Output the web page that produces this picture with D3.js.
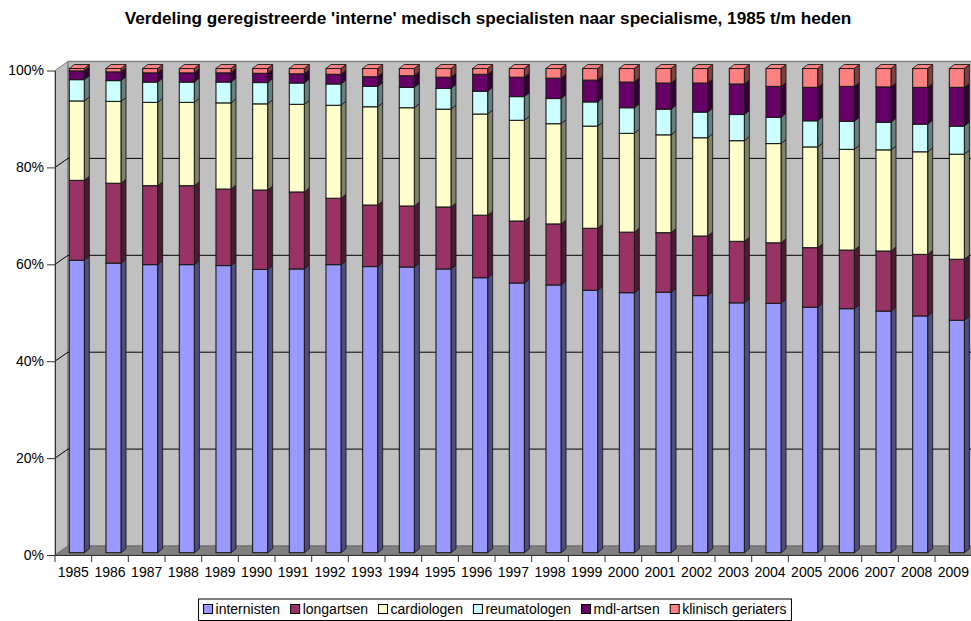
<!DOCTYPE html>
<html>
<head>
<meta charset="utf-8">
<script src="https://cdn.jsdelivr.net/npm/d3@7"></script>
<style>
  html, body { margin: 0; padding: 0; background: #fff; }
  svg { display: block; font-family: "Liberation Sans", Arial, sans-serif; }
</style>
</head>
<body>
<svg id="chart" width="971" height="621"></svg>
<script>
const title = "Verdeling geregistreerde 'interne' medisch specialisten naar specialisme, 1985 t/m heden";
const years = ["1985","1986","1987","1988","1989","1990","1991","1992","1993","1994","1995","1996","1997","1998","1999","2000","2001","2002","2003","2004","2005","2006","2007","2008","2009"];
const seriesNames = ["internisten","longartsen","cardiologen","reumatologen","mdl-artsen","klinisch geriaters"];
const internisten  = [60.4,59.8,59.5,59.5,59.3,58.5,58.6,59.5,59.1,59.0,58.6,56.8,55.7,55.3,54.2,53.7,53.8,53.1,51.6,51.5,50.7,50.4,49.9,48.9,48.0];
const longartsen   = [16.5,16.5,16.3,16.3,15.8,16.4,15.9,13.7,12.7,12.6,12.8,12.9,12.8,12.6,12.8,12.5,12.3,12.3,12.7,12.5,12.3,12.1,12.4,12.7,12.6];
const cardiologen  = [16.4,16.9,17.2,17.2,17.8,17.8,18.1,19.2,20.3,20.3,20.2,20.9,20.8,20.7,21.1,20.4,20.2,20.3,20.8,20.5,20.8,20.8,20.9,21.2,21.7];
const reumatologen = [4.4,4.3,4.2,4.2,4.3,4.4,4.4,4.4,4.2,4.2,4.3,4.7,4.9,5.2,5.0,5.3,5.3,5.3,5.4,5.4,5.4,5.8,5.7,5.7,5.8];
const mdlArtsen    = [1.8,1.8,1.9,1.9,1.9,1.9,1.9,2.0,2.0,2.4,2.3,3.5,4.0,4.2,4.5,5.3,5.4,6.0,6.3,6.4,6.9,7.2,7.3,7.6,8.0];
const geriaters    = [0.5,0.7,0.9,0.9,0.9,1.0,1.1,1.2,1.7,1.5,1.8,1.2,1.8,2.0,2.4,2.8,3.0,3.0,3.2,3.7,3.9,3.7,3.8,3.9,3.9];
const yTicks = [0, 0.2, 0.4, 0.6, 0.8, 1.0];

const frontColors = ["#9999FF","#993366","#FFFFCC","#CCFFFF","#660066","#FF8080"];
const sideColors  = ["#4D4D80","#4D1A33","#808066","#668080","#330033","#804040"];

const seriesArrays = [internisten, longartsen, cardiologen, reumatologen, mdlArtsen, geriaters];
const rows = years.map((y, i) => {
  const r = { year: y };
  seriesNames.forEach((s, k) => r[s] = seriesArrays[k][i]);
  return r;
});
const stack = d3.stack().keys(seriesNames).offset(d3.stackOffsetExpand)(rows);

const svg = d3.select("#chart");
const left = 55, right = 971.7, axisBottomY = 555, axisTopY = 70.5;
const depthX = 13, depthY = -9;

const x = d3.scaleBand().domain(years).range([left, right]).padding(0);
const yA = d3.scaleLinear().domain([0, 1]).range([axisBottomY, axisTopY]);
const yB = d3.scaleLinear().domain([0, 1]).range([552.7, 68.5]);

// Title
svg.append("text").attr("x", 488).attr("y", 24).attr("text-anchor", "middle")
  .attr("font-size", 17.2).attr("font-weight", "bold").text(title);

// Walls
const wallTop = yA(1) + depthY, wallBottom = yA(0) + depthY;
svg.append("polygon")
  .attr("points", [[left, yA(0)], [left, yA(1)], [left + depthX, wallTop], [left + depthX, wallBottom]].map(p => p.join(",")).join(" "))
  .attr("fill", "#c0c0c0").attr("stroke", "#808080").attr("stroke-width", 1);
svg.append("rect").attr("x", left + depthX).attr("y", wallTop)
  .attr("width", 1000 - left - depthX).attr("height", wallBottom - wallTop)
  .attr("fill", "#c0c0c0").attr("stroke", "#808080").attr("stroke-width", 1.5);
// floor
svg.append("polygon")
  .attr("points", [[left, yA(0)], [left + depthX, wallBottom], [1000, wallBottom], [1000, yA(0)]].map(p => p.join(",")).join(" "))
  .attr("fill", "#808080").attr("stroke", "#6a6a6a").attr("stroke-width", 0.8);

// Gridlines
yTicks.filter(v => v > 0 && v < 1).forEach(v => {
  svg.append("polyline")
    .attr("points", [[left, yA(v)], [left + depthX, yA(v) + depthY], [1000, yA(v) + depthY]].map(p => p.join(",")).join(" "))
    .attr("fill", "none").attr("stroke", "#000").attr("stroke-width", 1);
});

// Bars
const bw = x.bandwidth();
const fx = bw * 0.39, fw = bw * 0.41, sdx = 5, sdy = -4;
const barsG = svg.append("g");
years.forEach((yr, i) => {
  const x0 = x(yr) + fx, x1 = x0 + fw;
  stack.forEach((layer, k) => {
    const d = layer[i];
    const yTop = yB(d[1]), yBot = yB(d[0]);
    barsG.append("polygon")
      .attr("points", [[x1, yBot], [x1 + sdx, yBot + sdy], [x1 + sdx, yTop + sdy], [x1, yTop]].map(p => p.join(",")).join(" "))
      .attr("fill", sideColors[k]).attr("stroke", "#1a1a1a").attr("stroke-width", 0.9).attr("stroke-linejoin", "round");
    barsG.append("rect").attr("x", x0).attr("y", yTop).attr("width", fw).attr("height", yBot - yTop)
      .attr("fill", frontColors[k]).attr("stroke", "#1a1a1a").attr("stroke-width", 1.1);
    if (k === stack.length - 1) {
      barsG.append("polygon")
        .attr("points", [[x0, yTop], [x0 + sdx, yTop + sdy], [x1 + sdx, yTop + sdy], [x1, yTop]].map(p => p.join(",")).join(" "))
        .attr("fill", frontColors[k]).attr("stroke", "#1a1a1a").attr("stroke-width", 0.9);
    }
  });
});

// Y axis
const yAxis = d3.axisLeft(yA).tickValues(yTicks).tickFormat(d3.format(".0%")).tickSizeInner(8).tickSizeOuter(0).tickPadding(3);
const gy = svg.append("g").attr("transform", `translate(${left},0)`).call(yAxis);
gy.selectAll("text").attr("font-size", 14).attr("fill", "#000").attr("font-family", "Liberation Sans, Arial, sans-serif");
gy.selectAll("line").attr("stroke", "#333");
gy.select(".domain").attr("stroke", "#333");

// X axis
const xAxis = d3.axisBottom(x).tickSize(0).tickPadding(12);
const gx = svg.append("g").attr("transform", `translate(0,${axisBottomY})`).call(xAxis);
gx.selectAll("text").attr("font-size", 14).attr("fill", "#000").attr("font-family", "Liberation Sans, Arial, sans-serif");
gx.select(".domain").attr("stroke", "#333");
years.forEach(yr => {
  gx.append("line").attr("x1", x(yr)).attr("x2", x(yr)).attr("y1", 0).attr("y2", 7).attr("stroke", "#333");
});

// Legend
const lg = svg.append("g");
const box = lg.append("rect").attr("fill", "#fff").attr("stroke", "#000").attr("stroke-width", 1);
let cx = 0;
const gap = 10.5;
seriesNames.forEach((s, k) => {
  const g = lg.append("g").attr("transform", `translate(${cx},0)`);
  g.append("rect").attr("x", 0).attr("y", -9.5).attr("width", 9).attr("height", 9)
    .attr("fill", frontColors[k]).attr("stroke", "#000").attr("stroke-width", 1);
  const t = g.append("text").attr("x", 12).attr("y", 0).attr("font-size", 14).text(s);
  const w = t.node().getComputedTextLength();
  cx += 12 + w + gap;
});
const totalW = cx - gap;
const lx = 495 - totalW / 2;
lg.attr("transform", `translate(${lx},614)`);
box.attr("x", -5).attr("y", -15).attr("width", totalW + 10).attr("height", 21.5);
</script>
</body>
</html>
